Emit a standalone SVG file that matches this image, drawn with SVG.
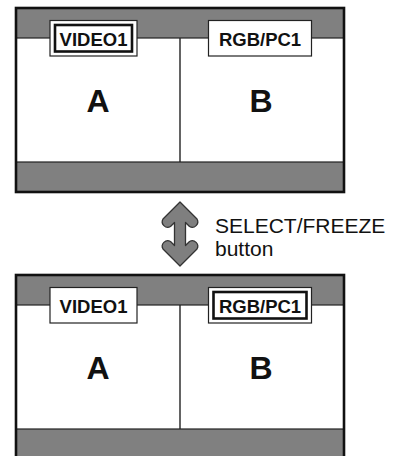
<svg xmlns="http://www.w3.org/2000/svg" width="395" height="456" viewBox="0 0 395 456">
<style>
.bg{fill:#ffffff}
.bar{fill:#808080;stroke:#222;stroke-width:1.2}
.frame{fill:none;stroke:#111;stroke-width:2.6}
.div{stroke:#222;stroke-width:1.4}
.lbl{fill:#fff;stroke:#222;stroke-width:1.2}
.lblin{fill:none;stroke:#111;stroke-width:2.6}
.lt{font-family:"Liberation Sans",Arial,sans-serif;font-weight:bold;font-size:18.5px;fill:#111;text-anchor:middle}
.big{font-family:"Liberation Sans",Arial,sans-serif;font-weight:bold;font-size:32px;fill:#111;text-anchor:middle}
.cap{font-family:"Liberation Sans",Arial,sans-serif;font-size:21px;fill:#111}
.arrow{fill:#7f7f7f;stroke:#333;stroke-width:1.3;stroke-linejoin:round}
</style>
<rect width="395" height="456" fill="#fff"/>
<g id="screen-top">
  <rect class="bg" x="16" y="8" width="328" height="184"/>
  <rect class="bar" x="16" y="8" width="328" height="30"/>
  <rect class="bar" x="16" y="162" width="328" height="30"/>
  <line class="div" x1="180" y1="38" x2="180" y2="162"/>
  <rect class="frame" x="16" y="8" width="328" height="184"/>
  <g id="top-video1">
    <rect class="lbl" x="50" y="20.5" width="87" height="35.5"/>
    <rect class="lblin" x="55" y="25" width="77" height="26.5"/>
    <text class="lt" x="93.5" y="45.5">VIDEO1</text>
  </g>
  <g id="top-rgbpc1">
    <rect class="lbl" x="208.5" y="20.5" width="103" height="35.5"/>
    <text class="lt" x="260" y="45.5">RGB/PC1</text>
  </g>
  <text class="big" x="98" y="112">A</text>
  <text class="big" x="261" y="112">B</text>
</g>
<g id="screen-bottom">
  <rect class="bg" x="16" y="275" width="328" height="184"/>
  <rect class="bar" x="16" y="275" width="328" height="30"/>
  <rect class="bar" x="16" y="429" width="328" height="30"/>
  <line class="div" x1="180" y1="305" x2="180" y2="429"/>
  <rect class="frame" x="16" y="275" width="328" height="184"/>
  <g id="bottom-video1">
    <rect class="lbl" x="50" y="287.5" width="87" height="35.5"/>
    <text class="lt" x="93.5" y="312.5">VIDEO1</text>
  </g>
  <g id="bottom-rgbpc1">
    <rect class="lbl" x="208.5" y="287.5" width="103" height="35.5"/>
    <rect class="lblin" x="213.5" y="292" width="93" height="26.5"/>
    <text class="lt" x="260" y="312.5">RGB/PC1</text>
  </g>
  <text class="big" x="98" y="379">A</text>
  <text class="big" x="261" y="379">B</text>
</g>
<g id="connectors">
  <path class="arrow" d="M180,202 L197,219 A5.5,5.5 0 0 1 189.5,226.5 L185.5,222.5 L185.5,245.5 L189.5,241.5 A5.5,5.5 0 0 1 197,249 L180,266 L163,249 A5.5,5.5 0 0 1 170.5,241.5 L174.5,245.5 L174.5,222.5 L170.5,226.5 A5.5,5.5 0 0 1 163,219 Z"/>
</g>
<g id="caption">
  <text class="cap" x="215" y="233">SELECT/FREEZE</text>
  <text class="cap" x="215" y="256">button</text>
</g>
</svg>
